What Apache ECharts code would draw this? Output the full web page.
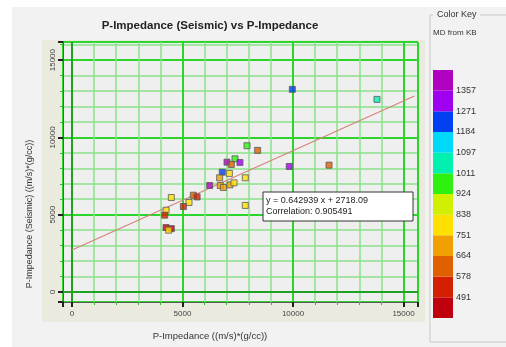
<!DOCTYPE html>
<html><head><meta charset="utf-8">
<script src="https://cdn.jsdelivr.net/npm/echarts@6/dist/echarts.min.js"></script>
<style>html,body{margin:0;padding:0;background:#fff}#c{width:506px;height:347px}</style>
</head><body><div id="c"></div>
<script>
// ---- data ----
const xImpedance = [9970, 13800, 7920, 8400, 7376, 7014, 7210, 7600, 9830, 11630,
  6800, 6680, 7120, 7840, 6230, 6710, 6850, 7150, 7330, 7840,
  4495, 5490, 5660, 5295, 5040, 4255, 4195, 4255, 4495, 4375];
const ySeismic = [13110, 12460, 9460, 9160, 8615, 8400, 8250, 8380, 8120, 8205,
  7750, 7385, 7670, 7385, 6890, 6890, 6760, 6930, 7060, 5600,
  6110, 6260, 6150, 5790, 5530, 5290, 4970, 4170, 4100, 4000];
const mdFromKB = [1230, 1055, 965, 620, 965, 1400, 620, 1315, 1315, 620,
  1230, 710, 795, 795, 1400, 710, 710, 710, 795, 795,
  795, 620, 535, 795, 535, 795, 535, 450, 450, 795];
const regSlope = 0.642939;
const regIntercept = 2718.09;
const correlation = 0.905491;
const regXRange = [0, 15500];
const xTickLabels = [0, 5000, 10000, 15000];
const yTickLabels = [0, 5000, 10000, 15000];
const keyEdges = [491, 578, 664, 751, 838, 924, 1011, 1097, 1184, 1271, 1357];
const keyColors = ['#c0000e', '#d42000', '#e06000', '#f0a000', '#ffe000', '#d0f000',
  '#30f010', '#00f0b0', '#00d8f8', '#0040f0', '#a000f0', '#b000c0'];

// ---- build ----
const FONT = '"Liberation Sans", Arial, sans-serif';
const scatterData = xImpedance.map((x, i) => [x, ySeismic[i], mdFromKB[i]]);
const regData = regXRange.map(x => [x, regSlope * x + regIntercept]);
const pieces = keyColors.map((c, i) => {
  if (i === 0) return { lt: keyEdges[0], color: c };
  if (i === keyColors.length - 1) return { gte: keyEdges[i - 1], color: c };
  return { gte: keyEdges[i - 1], lt: keyEdges[i], color: c };
});

function valueAxis(extra) {
  return Object.assign({
    type: 'value',
    splitNumber: 3,
    axisLine: { show: true, onZero: false, lineStyle: { color: '#5a5a5a', width: 1 } },
    axisTick: { show: true, length: 5, lineStyle: { color: '#222', width: 2 } },
    minorTick: { show: true, splitNumber: 5, length: 3, lineStyle: { color: '#33bb33', width: 1 } },
    splitLine: { show: true, lineStyle: { color: '#2cd42c', width: 2 } },
    minorSplitLine: { show: true, lineStyle: { color: '#8ae28a', width: 1.5 } }
  }, extra);
}

const chart = echarts.init(document.getElementById('c'), null, { renderer: 'canvas' });
chart.setOption({
  animation: false,
  backgroundColor: '#ffffff',
  title: {
    text: 'P-Impedance (Seismic) vs P-Impedance',
    left: 205, top: 15, textAlign: 'center',
    textStyle: { fontFamily: FONT, fontSize: 11.5, fontWeight: 'bold', color: '#222' }
  },
  grid: [
    { left: 63, top: 42, width: 355, height: 260, show: true, backgroundColor: '#efefef',
      borderColor: '#666', borderWidth: 1 },
    { left: 433, top: 70, width: 20, height: 248 }
  ],
  xAxis: [
    valueAxis({ gridIndex: 0, min: -407, max: 15656,
      axisLabel: { fontFamily: FONT, fontSize: 8, color: '#444', margin: 8,
        formatter: v => xTickLabels.includes(v) ? String(v) : '' } }),
    { gridIndex: 1, type: 'category', data: ['key'], show: false }
  ],
  yAxis: [
    valueAxis({ gridIndex: 0, min: -648, max: 16172,
      axisLabel: { fontFamily: FONT, fontSize: 8, color: '#444', margin: 6, rotate: 90,
        formatter: v => yTickLabels.includes(v) ? String(v) : '' } }),
    { gridIndex: 1, type: 'value', min: 0, max: 12, interval: 1, position: 'right',
      axisLine: { show: false }, axisTick: { show: false }, splitLine: { show: false },
      axisLabel: { fontFamily: FONT, fontSize: 9, color: '#333', margin: 3,
        formatter: v => (v >= 1 && v <= keyEdges.length) ? String(keyEdges[v - 1]) : '' } }
  ],
  visualMap: { type: 'piecewise', show: false, seriesIndex: 0, dimension: 2, pieces: pieces },
  series: [
    { type: 'scatter', xAxisIndex: 0, yAxisIndex: 0, data: scatterData, symbol: 'rect',
      symbolSize: [6, 6], itemStyle: { borderColor: '#5a5a5a', borderWidth: 1, opacity: 0.8 }, z: 5 },
    { type: 'line', xAxisIndex: 0, yAxisIndex: 0, data: regData, symbol: 'none',
      lineStyle: { color: '#d4847c', width: 1.2 }, z: 4, silent: true,
      markLine: { silent: true, symbol: 'none', label: { show: false }, z: 1,
        lineStyle: { color: '#22a022', width: 2, type: 'solid' },
        data: [{ xAxis: 0 }, { yAxis: 0 }] } }
  ].concat(keyColors.map(c => ({
    type: 'bar', xAxisIndex: 1, yAxisIndex: 1, stack: 'key', data: [1], barWidth: '100%',
    itemStyle: { color: c }, silent: true
  }))),
  graphic: [
    { type: 'rect', z: -20, shape: { x: 12, y: 7, width: 494, height: 340 }, style: { fill: '#f2f2f2' } },
    { type: 'rect', z: -10, shape: { x: 42, y: 40, width: 383, height: 282 }, style: { fill: '#ebeadf' } },
    // color key group box
    { type: 'polyline', z: -5, shape: { points: [[433, 15], [430, 15], [430, 342], [506, 342]] },
      style: { stroke: '#c8c8c8', lineWidth: 1, fill: null } },
    { type: 'line', z: -5, shape: { x1: 480, y1: 15, x2: 506, y2: 15 }, style: { stroke: '#c8c8c8', lineWidth: 1 } },
    { type: 'text', left: 437, top: 10, style: { text: 'Color Key', font: '9px ' + FONT, fill: '#333' } },
    { type: 'text', left: 433, top: 29, style: { text: 'MD from KB', font: '8px ' + FONT, fill: '#333' } },
    // axis names
    { type: 'text', x: 30, y: 214, rotation: Math.PI / 2,
      style: { text: 'P-Impedance (Seismic) ((m/s)*(g/cc))', font: '9px ' + FONT, fill: '#333',
        align: 'center', verticalAlign: 'middle' } },
    { type: 'text', x: 210, y: 336,
      style: { text: 'P-Impedance ((m/s)*(g/cc))', font: '9.5px ' + FONT, fill: '#333',
        align: 'center', verticalAlign: 'middle' } },
    // regression annotation
    { type: 'rect', z: 100, shape: { x: 263, y: 192, width: 150, height: 29 },
      style: { fill: '#ffffff', stroke: '#333', lineWidth: 1 } },
    { type: 'text', z: 101, x: 266, y: 201,
      style: { text: 'y = ' + regSlope + ' x + ' + regIntercept, font: '9px ' + FONT, fill: '#222', verticalAlign: 'middle' } },
    { type: 'text', z: 101, x: 266, y: 212,
      style: { text: 'Correlation: ' + correlation, font: '9px ' + FONT, fill: '#222', verticalAlign: 'middle' } }
  ]
});
</script></body></html>
